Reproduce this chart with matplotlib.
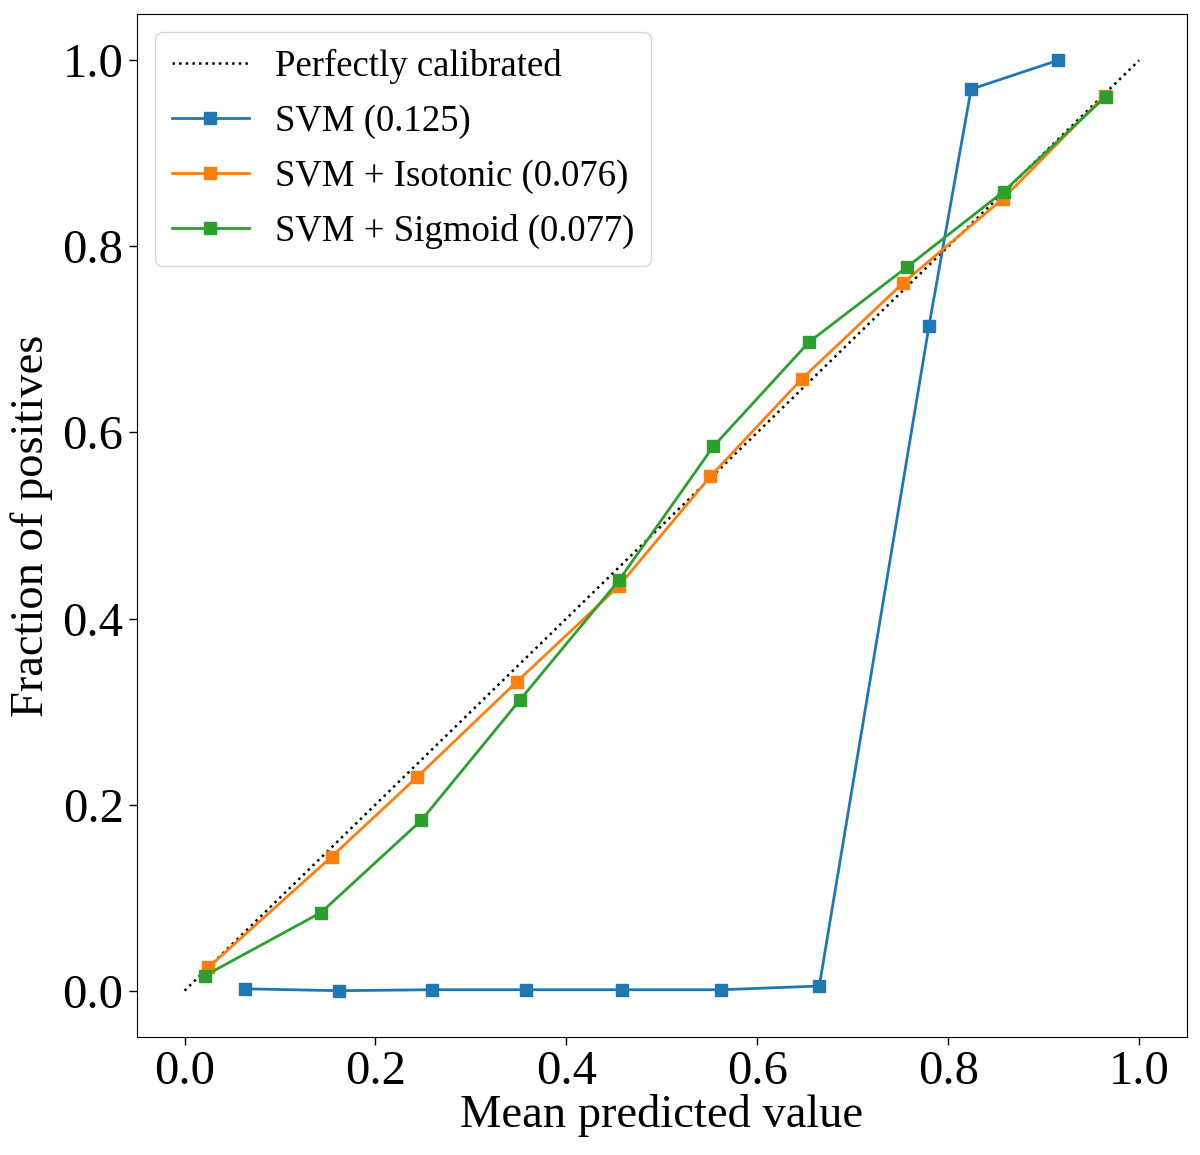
import numpy as np
import matplotlib
matplotlib.use("Agg")
import matplotlib.pyplot as plt

plt.rcParams['font.family'] = ['Liberation Serif', 'DejaVu Serif']

# calibration curves
svm_x = [0.063, 0.162, 0.259, 0.358, 0.458, 0.562, 0.665, 0.780, 0.824, 0.915]
svm_y = [0.002, 0.000, 0.001, 0.001, 0.001, 0.001, 0.005, 0.715, 0.969, 1.000]

iso_x = [0.025, 0.154, 0.244, 0.348, 0.455, 0.551, 0.647, 0.753, 0.857, 0.964]
iso_y = [0.025, 0.144, 0.230, 0.332, 0.435, 0.553, 0.658, 0.761, 0.851, 0.962]

sig_x = [0.021, 0.143, 0.248, 0.351, 0.455, 0.554, 0.654, 0.757, 0.858, 0.965]
sig_y = [0.016, 0.084, 0.183, 0.312, 0.441, 0.585, 0.697, 0.778, 0.859, 0.961]

labels = ["SVM (0.125)", "SVM + Isotonic (0.076)", "SVM + Sigmoid (0.077)"]

fig = plt.figure(figsize=(12, 11.55), dpi=100)
ax = fig.add_axes([0.114, 0.102, 0.875, 0.886])

ax.plot([0, 1], [0, 1], "k:", lw=1.8, label="Perfectly calibrated")
ax.plot(svm_x, svm_y, "s-", color="#1f77b4", lw=2, ms=9, label=labels[0])
ax.plot(iso_x, iso_y, "s-", color="#ff7f0e", lw=2, ms=9, label=labels[1])
ax.plot(sig_x, sig_y, "s-", color="#2ca02c", lw=2, ms=9, label=labels[2])

ax.set_xlim(-0.05, 1.05)
ax.set_ylim(-0.05, 1.05)
ax.set_xlabel("Mean predicted value", fontsize=33.5, labelpad=0)
ax.set_ylabel("Fraction of positives", fontsize=33.5, labelpad=7)
ax.tick_params(labelsize=35, length=6, width=1)
ax.legend(loc="upper left", fontsize=26.5, handlelength=2.1, borderpad=0.45,
          labelspacing=0.55, handletextpad=0.7)

fig.savefig("out.png", dpi=100)
